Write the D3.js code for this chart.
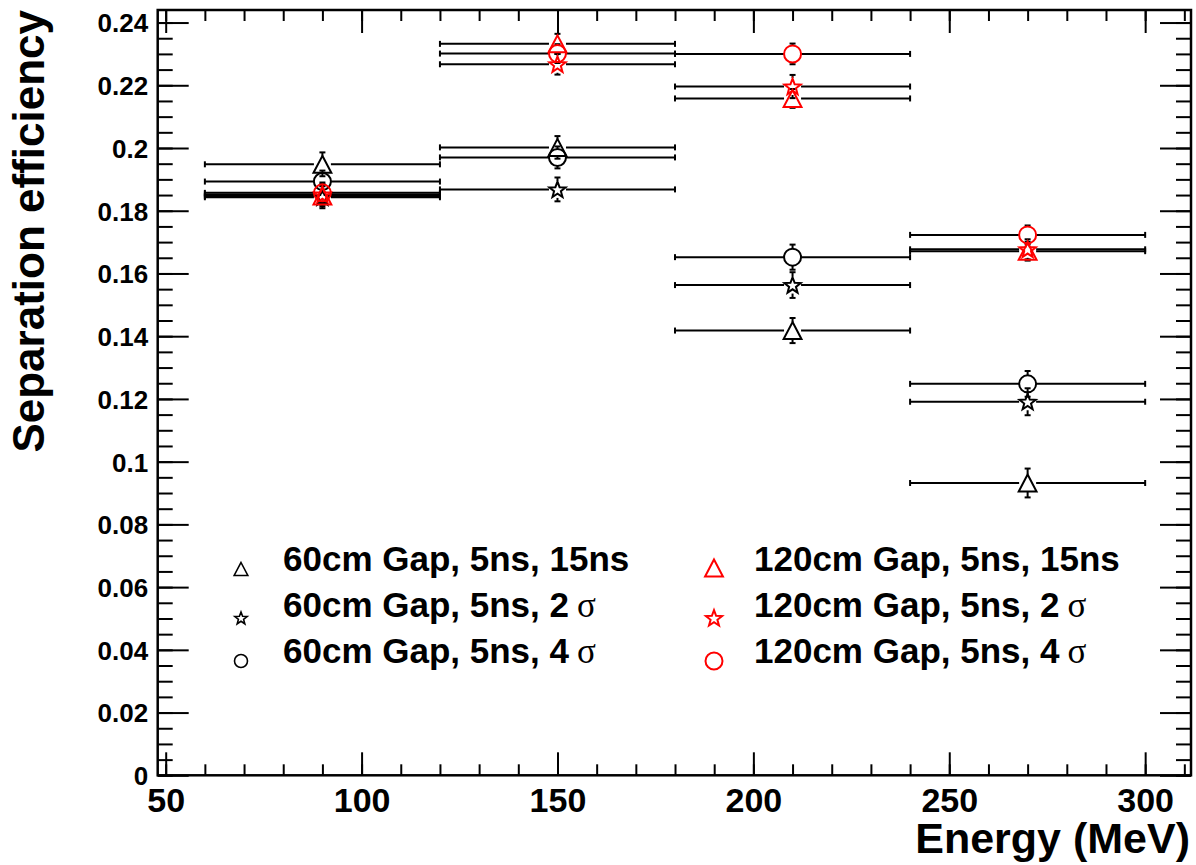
<!DOCTYPE html>
<html>
<head>
<meta charset="utf-8">
<script src="https://cdn.jsdelivr.net/npm/d3@7"></script>
<style>
  html, body { margin: 0; padding: 0; background: #fff; }
  svg { display: block; font-family: "Liberation Sans", Arial, Helvetica, sans-serif; }
</style>
</head>
<body>
<svg id="chart" width="1196" height="865"></svg>
<script>
// Energy bins (MeV): centres and edges
const binCentre = [90, 150, 210, 270];
const binLow    = [60, 120, 180, 240];
const binHigh   = [120, 180, 240, 300];

// Separation efficiency per configuration, with statistical errors
const gap60_15ns   = [0.1948, 0.2002, 0.1418, 0.0932];
const gap60_15nsE  = [0.0038, 0.0036, 0.0040, 0.0046];
const gap60_2sig   = [0.1843, 0.1868, 0.1563, 0.1191];
const gap60_2sigE  = [0.0035, 0.0038, 0.0041, 0.0043];
const gap60_4sig   = [0.1893, 0.1970, 0.1652, 0.1248];
const gap60_4sigE  = [0.0035, 0.0035, 0.0040, 0.0041];
const gap120_15ns  = [0.1847, 0.2332, 0.2158, 0.1671];
const gap120_15nsE = [0.0033, 0.0032, 0.0030, 0.0030];
const gap120_2sig  = [0.1852, 0.2267, 0.2196, 0.1677];
const gap120_2sigE = [0.0033, 0.0033, 0.0037, 0.0032];
const gap120_4sig  = [0.1857, 0.2301, 0.2300, 0.1723];
const gap120_4sigE = [0.0033, 0.0030, 0.0033, 0.0030];

// Legend entries
const legendLabels = [
  ["60cm Gap, 5ns, 15ns", null],
  ["60cm Gap, 5ns, 2", "σ"],
  ["60cm Gap, 5ns, 4", "σ"],
  ["120cm Gap, 5ns, 15ns", null],
  ["120cm Gap, 5ns, 2", "σ"],
  ["120cm Gap, 5ns, 4", "σ"]
];

// Axis ticks
const xMajorTicks = [50, 100, 150, 200, 250, 300];
const xMinorTicks = d3.range(50, 311, 10);
const yMajorTicks = d3.range(0, 0.2401, 0.02);
const yMinorTicks = d3.range(0, 0.2401, 0.005);

const series = [
  { vals: gap60_15ns,  errs: gap60_15nsE,  shape: "triangle", color: "#000" },
  { vals: gap60_2sig,  errs: gap60_2sigE,  shape: "star",     color: "#000" },
  { vals: gap60_4sig,  errs: gap60_4sigE,  shape: "circle",   color: "#000" },
  { vals: gap120_15ns, errs: gap120_15nsE, shape: "triangle", color: "#ff0000" },
  { vals: gap120_2sig, errs: gap120_2sigE, shape: "star",     color: "#ff0000" },
  { vals: gap120_4sig, errs: gap120_4sigE, shape: "circle",   color: "#ff0000" }
];

const svg = d3.select("#chart");
const L = 157.7, R = 1191, T = 10, B = 775.3;

const x = d3.scaleLinear().domain([47.96, 311.7]).range([L, R]);
const y = d3.scaleLinear().domain([0, 0.2440]).range([B, T]);

// Marker path generators (open markers, centred on the point)
function markerPath(shape, s) {
  if (shape === "circle") {
    const r = s / 2;
    return `M${-r},0A${r},${r} 0 1,0 ${r},0A${r},${r} 0 1,0 ${-r},0Z`;
  }
  if (shape === "triangle") {
    const h = s / 2;
    return `M0,${-h}L${h * 1.05},${h}L${-h * 1.05},${h}Z`;
  }
  // five-pointed star
  const ro = s / 2, ri = ro * 0.42;
  const pts = [];
  for (let i = 0; i < 10; i++) {
    const a = -Math.PI / 2 + i * Math.PI / 5;
    const r = i % 2 === 0 ? ro : ri;
    pts.push([r * Math.cos(a), r * Math.sin(a) + ro * 0.08]);
  }
  return "M" + pts.map(p => p[0].toFixed(2) + "," + p[1].toFixed(2)).join("L") + "Z";
}

// ---- ticks (all four sides, pointing inward) ----
const axes = svg.append("g").attr("class", "axes");
const tickStroke = g => g.selectAll("line").attr("stroke", "#000").attr("stroke-width", 2);

// bottom
axes.append("g").attr("transform", `translate(0,${B})`)
  .call(d3.axisBottom(x).tickValues(xMinorTicks).tickSize(-11).tickFormat(""))
  .call(g => g.select(".domain").remove()).call(tickStroke);
const xAx = axes.append("g").attr("transform", `translate(0,${B})`)
  .call(d3.axisBottom(x).tickValues(xMajorTicks).tickSize(-23).tickPadding(12.5).tickFormat(d3.format("d")))
  .call(g => g.select(".domain").remove()).call(tickStroke);
xAx.selectAll("text").attr("font-size", 34).attr("font-weight", "bold").attr("fill", "#000")
  .attr("font-family", "'Liberation Sans', Arial, sans-serif");

// top
axes.append("g").attr("transform", `translate(0,${T})`)
  .call(d3.axisTop(x).tickValues(xMinorTicks).tickSize(-11).tickFormat(""))
  .call(g => g.select(".domain").remove()).call(tickStroke);
axes.append("g").attr("transform", `translate(0,${T})`)
  .call(d3.axisTop(x).tickValues(xMajorTicks).tickSize(-23).tickFormat(""))
  .call(g => g.select(".domain").remove()).call(tickStroke);

// left
axes.append("g").attr("transform", `translate(${L},0)`)
  .call(d3.axisLeft(y).tickValues(yMinorTicks).tickSize(-15).tickFormat(""))
  .call(g => g.select(".domain").remove()).call(tickStroke);
const yAx = axes.append("g").attr("transform", `translate(${L},0)`)
  .call(d3.axisLeft(y).tickValues(yMajorTicks).tickSize(-31).tickPadding(9.5)
    .tickFormat(d => d === 0 ? "0" : d3.format("")(+d.toFixed(2))))
  .call(g => g.select(".domain").remove()).call(tickStroke);
yAx.selectAll("text").attr("font-size", 26).attr("font-weight", "bold").attr("fill", "#000")
  .attr("font-family", "'Liberation Sans', Arial, sans-serif").attr("dy", "0.36em");

// right
axes.append("g").attr("transform", `translate(${R},0)`)
  .call(d3.axisRight(y).tickValues(yMinorTicks).tickSize(-15).tickFormat(""))
  .call(g => g.select(".domain").remove()).call(tickStroke);
axes.append("g").attr("transform", `translate(${R},0)`)
  .call(d3.axisRight(y).tickValues(yMajorTicks).tickSize(-31).tickFormat(""))
  .call(g => g.select(".domain").remove()).call(tickStroke);

// frame
svg.append("rect").attr("x", L).attr("y", T).attr("width", R - L).attr("height", B - T)
  .attr("fill", "none").attr("stroke", "#000").attr("stroke-width", 2.5);

// ---- data: error bars then markers ----
const M = 17;       // marker size in plot
const cap = 3;      // end-cap half length
const plot = svg.append("g").attr("class", "data");

series.forEach(s => {
  const g = plot.append("g");
  binCentre.forEach((c, i) => {
    const px = x(c), py = y(s.vals[i]);
    const gap = M / 2;
    const xl = x(binLow[i]), xr = x(binHigh[i]);
    const yt = y(s.vals[i] + s.errs[i]), yb = y(s.vals[i] - s.errs[i]);
    const segs = [
      [xl, py, px - gap, py], [px + gap, py, xr, py],
      [xl, py - cap, xl, py + cap], [xr, py - cap, xr, py + cap]
    ];
    if (py - gap > yt) segs.push([px, yt, px, py - gap]);
    if (py + gap < yb) segs.push([px, py + gap, px, yb]);
    segs.push([px - cap, yt, px + cap, yt], [px - cap, yb, px + cap, yb]);
    segs.forEach(d => g.append("line")
      .attr("x1", d[0]).attr("y1", d[1]).attr("x2", d[2]).attr("y2", d[3])
      .attr("stroke", "#000").attr("stroke-width", 2));
  });
});

series.forEach(s => {
  plot.append("g").selectAll("path").data(binCentre).join("path")
    .attr("transform", (c, i) => `translate(${x(c)},${y(s.vals[i])})`)
    .attr("d", markerPath(s.shape, M))
    .attr("fill", "none").attr("stroke", s.color).attr("stroke-width", 2);
});

// ---- legend ----
const legend = svg.append("g").attr("class", "legend");
const legendPos = [
  { mx: 241, tx: 283, base: 571, my: 569, ms: 13 },
  { mx: 241, tx: 283, base: 617, my: 618, ms: 13 },
  { mx: 241, tx: 283, base: 663, my: 661, ms: 13 },
  { mx: 714, tx: 754, base: 571, my: 568, ms: 17 },
  { mx: 714, tx: 754, base: 617, my: 618, ms: 17 },
  { mx: 714, tx: 754, base: 663, my: 661, ms: 17 }
];
legendLabels.forEach((lab, i) => {
  const p = legendPos[i], s = series[i];
  legend.append("path")
    .attr("transform", `translate(${p.mx},${p.my})`)
    .attr("d", markerPath(s.shape, p.ms))
    .attr("fill", "none").attr("stroke", s.color).attr("stroke-width", i < 3 ? 1.6 : 2);
  const t = legend.append("text").attr("x", p.tx).attr("y", p.base)
    .attr("font-size", 35).attr("font-weight", "bold").attr("fill", "#000")
    .attr("font-family", "'Liberation Sans', Arial, sans-serif");
  t.append("tspan").text(lab[0]);
  if (lab[1]) {
    t.append("tspan").attr("dx", 8).attr("font-family", "'Liberation Serif', 'Times New Roman', serif")
      .attr("font-weight", "normal").text(lab[1]);
  }
});

// ---- axis titles ----
svg.append("text").attr("x", 1190).attr("y", 853).attr("text-anchor", "end")
  .attr("font-size", 43).attr("font-weight", "bold").attr("fill", "#000")
  .text("Energy (MeV)");
svg.append("text").attr("transform", "translate(44,10) rotate(-90)").attr("text-anchor", "end")
  .attr("font-size", 44).attr("font-weight", "bold").attr("fill", "#000")
  .text("Separation efficiency");
</script>
</body>
</html>
